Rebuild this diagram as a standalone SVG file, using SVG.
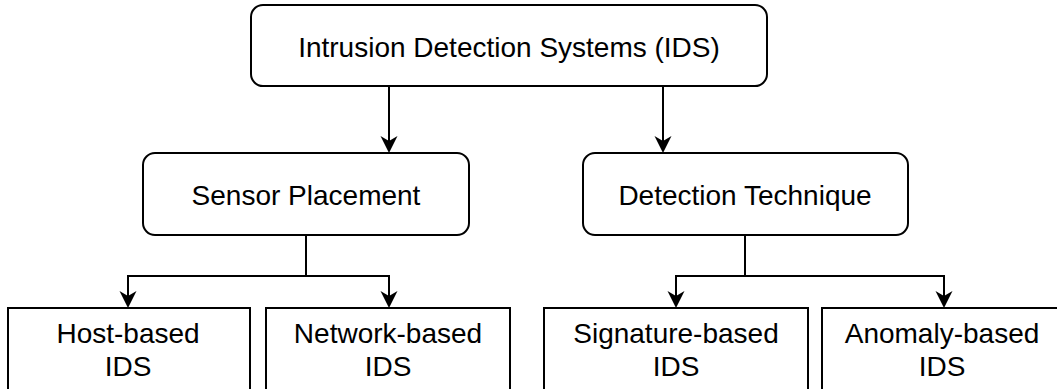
<svg xmlns="http://www.w3.org/2000/svg" width="1057" height="389" viewBox="0 0 1057 389">
  <style>
    .box { fill: #ffffff; stroke: #000000; stroke-width: 2; }
    .lbl { font-family: "Liberation Sans", Arial, sans-serif; font-size: 28px; fill: #000000; text-anchor: middle; }
    .edge { fill: none; stroke: #000000; stroke-width: 2; }
  </style>
  <defs>
    <marker id="arrow" viewBox="0 -9 17 18" refX="5" refY="0" markerWidth="17" markerHeight="18" markerUnits="userSpaceOnUse" orient="auto">
      <path d="M0,-8.5 L17,0 L0,8.5 L5,0 Z" fill="#000000"/>
    </marker>
  </defs>
  <rect width="1057" height="389" fill="#ffffff"/>

  <g id="connectors">
    <path class="edge" d="M389,86 L389,141" marker-end="url(#arrow)"/>
    <path class="edge" d="M663,86 L663,141" marker-end="url(#arrow)"/>
    <path class="edge" d="M306,235 L306,276 L128,276 L128,296" marker-end="url(#arrow)"/>
    <path class="edge" d="M306,276 L389,276 L389,296" marker-end="url(#arrow)"/>
    <path class="edge" d="M745,235 L745,276 L676,276 L676,296" marker-end="url(#arrow)"/>
    <path class="edge" d="M745,276 L944,276 L944,296" marker-end="url(#arrow)"/>
  </g>

  <g id="ids">
    <rect class="box" x="251" y="5" width="516" height="81" rx="12" ry="12"/>
    <text class="lbl" x="509" y="57">Intrusion Detection Systems (IDS)</text>
  </g>
  <g id="sensor-placement">
    <rect class="box" x="143" y="153" width="326" height="82" rx="12" ry="12"/>
    <text class="lbl" x="306" y="205">Sensor Placement</text>
  </g>
  <g id="detection-technique">
    <rect class="box" x="583" y="153" width="325" height="82" rx="12" ry="12"/>
    <text class="lbl" x="745" y="205">Detection Technique</text>
  </g>
  <g id="host-based">
    <rect class="box" x="8" y="308" width="242" height="100"/>
    <text class="lbl" x="128" y="343">Host-based</text>
    <text class="lbl" x="128" y="376">IDS</text>
  </g>
  <g id="network-based">
    <rect class="box" x="266" y="308" width="244" height="100"/>
    <text class="lbl" x="388" y="343">Network-based</text>
    <text class="lbl" x="388" y="376">IDS</text>
  </g>
  <g id="signature-based">
    <rect class="box" x="544" y="308" width="264" height="100"/>
    <text class="lbl" x="676" y="343">Signature-based</text>
    <text class="lbl" x="676" y="376">IDS</text>
  </g>
  <g id="anomaly-based">
    <rect class="box" x="822" y="308" width="244" height="100"/>
    <text class="lbl" x="942" y="343">Anomaly-based</text>
    <text class="lbl" x="942" y="376">IDS</text>
  </g>
</svg>
